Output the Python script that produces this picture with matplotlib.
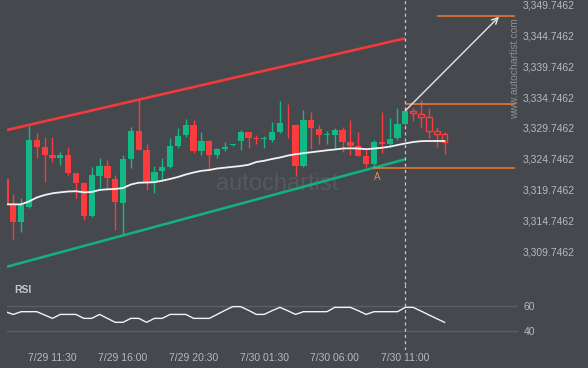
import numpy as np
import matplotlib
matplotlib.use("Agg")
import matplotlib.pyplot as plt
from matplotlib.patches import Rectangle

BG = "#45484d"
GREEN = "#13b985"
RED = "#fc3b3d"
ORANGE = "#f47a32"
TEXT = "#b6b9bd"

plt.rcParams["font.family"] = ["Liberation Sans", "DejaVu Sans"]

# candles, index -1 is the clipped one on the left edge
idx = np.arange(-1, 56)
opens = [3321.45, 3317.23, 3314.52, 3316.96, 3327.78, 3326.70, 3325.35, 3324.81, 3325.35, 3322.38,
         3320.85, 3315.49, 3321.99, 3323.56, 3321.50, 3317.61, 3324.70, 3329.24, 3326.16, 3321.01,
         3322.75, 3323.45, 3326.86, 3328.59, 3330.22, 3326.05, 3327.62, 3325.35, 3326.32, 3326.90,
         3327.67, 3329.03, 3328.10, 3328.00, 3327.78, 3329.13, 3330.40, 3330.22, 3323.56, 3331.03,
         3329.57, 3328.60, 3328.59, 3329.41, 3327.41, 3326.81, 3325.19, 3323.89, 3327.46, 3327.13,
         3328.06, 3330.38, 3332.49, 3331.95, 3331.47, 3329.29, 3328.71]
highs = [3321.45, 3318.97, 3318.42, 3330.10, 3328.87, 3328.32, 3328.32, 3325.88, 3326.61, 3322.50,
         3320.90, 3323.45, 3324.91, 3324.49, 3322.10, 3325.35, 3329.84, 3334.28, 3327.08, 3323.61,
         3324.91, 3328.06, 3329.68, 3331.19, 3331.03, 3329.03, 3327.78, 3326.54, 3327.41, 3327.10,
         3329.41, 3329.10, 3328.59, 3328.48, 3330.66, 3334.11, 3333.58, 3330.30, 3332.65, 3332.28,
         3330.22, 3329.24, 3329.68, 3329.95, 3331.03, 3329.03, 3326.44, 3327.78, 3332.28, 3331.31,
         3332.93, 3332.65, 3333.03, 3334.28, 3333.03, 3329.84, 3329.03]
lows = [3317.23, 3311.55, 3312.90, 3316.79, 3324.91, 3321.01, 3324.26, 3323.72, 3322.10, 3318.32,
        3314.80, 3315.33, 3319.67, 3319.83, 3313.17, 3312.36, 3323.19, 3326.16, 3319.67, 3319.23,
        3321.13, 3323.19, 3326.44, 3328.32, 3325.62, 3325.35, 3322.91, 3324.91, 3326.00, 3326.80,
        3326.16, 3326.44, 3327.08, 3326.44, 3327.51, 3328.98, 3328.16, 3321.99, 3323.45, 3326.32,
        3327.08, 3327.08, 3326.44, 3325.88, 3325.35, 3325.19, 3323.45, 3323.45, 3325.62, 3326.70,
        3327.78, 3330.22, 3330.87, 3329.68, 3328.06, 3326.70, 3325.46]
closes = [3317.23, 3314.52, 3317.23, 3327.78, 3326.70, 3325.35, 3324.81, 3325.35, 3322.38, 3320.85,
          3315.49, 3322.10, 3323.56, 3321.66, 3317.77, 3324.70, 3329.24, 3326.16, 3321.01, 3322.54,
          3323.45, 3326.81, 3328.43, 3330.22, 3326.05, 3327.62, 3325.35, 3326.32, 3326.70, 3327.00,
          3329.03, 3328.06, 3328.00, 3328.10, 3329.03, 3330.54, 3330.30, 3323.61, 3331.03, 3329.78,
          3328.59, 3328.70, 3329.41, 3327.51, 3326.81, 3325.19, 3323.89, 3327.46, 3327.13, 3327.95,
          3330.38, 3332.49, 3332.12, 3331.57, 3329.29, 3328.81, 3327.51]
ma = [3317.34, 3317.34, 3317.34, 3317.80, 3318.45, 3318.85, 3319.13, 3319.29, 3319.42, 3319.47,
      3319.29, 3319.34, 3319.67, 3319.78, 3319.83, 3319.99, 3320.56, 3320.85, 3320.88, 3320.93,
      3321.18, 3321.45, 3321.78, 3322.18, 3322.51, 3322.78, 3322.91, 3323.16, 3323.29, 3323.43,
      3323.56, 3323.76, 3324.21, 3324.41, 3324.70, 3324.94, 3325.25, 3325.48, 3325.64, 3325.80,
      3325.95, 3326.11, 3326.24, 3326.40, 3326.44, 3326.40, 3326.29, 3326.40, 3326.52, 3326.70,
      3326.97, 3327.22, 3327.46, 3327.59, 3327.62, 3327.62, 3327.62]
rsi = [55.4, 53.2, 55.4, 55.4, 55.4, 52.7, 50.0, 53.2, 53.2, 53.2,
       50.0, 50.0, 53.2, 50.0, 46.8, 46.8, 50.0, 50.0, 46.8, 50.0,
       50.0, 53.2, 53.2, 53.2, 50.0, 50.0, 50.0, 53.2, 56.5, 59.5,
       59.5, 56.5, 53.2, 53.2, 56.2, 58.9, 56.2, 53.2, 55.4, 55.4,
       55.4, 55.4, 58.9, 58.9, 58.9, 56.2, 53.2, 55.4, 55.4, 55.4,
       55.4, 58.9, 58.9, 55.9, 52.8, 49.8, 46.8]

pattern_end = 50  # last bar of the pattern, dashed line
resistance = ([-0.8, 50], [3329.41, 3344.29])
support = ([-0.8, 50], [3307.21, 3324.65])
target_level = 3347.91
break_level = 3333.58
point_a = 3323.19
arrow_from = (50, 3332.54)
arrow_to = (61.95, 3347.80)

price_ticks = [3309.7462 + 5 * k for k in range(9)]
date_pos = [5, 14, 23, 32, 41, 50]
date_labels = ["7/29 11:30", "7/29 16:00", "7/29 20:30", "7/30 01:30", "7/30 06:00", "7/30 11:00"]

fig = plt.figure(figsize=(5.88, 3.68), dpi=100, facecolor=BG)
W, H = 588, 368
ax = fig.add_axes([7 / W, 1 - 285 / H, 511 / W, 285 / H], facecolor=BG)
ax_rsi = fig.add_axes([7 / W, 1 - 350 / H, 511 / W, 65 / H], facecolor=BG)
xlim = (-0.80, 64.37)

# faint watermark
for x, top, bot in [(185, 183, 191), (190, 177, 191), (195, 173, 185), (200, 169, 179),
                    (205, 171, 181), (211, 167, 177), (216, 163, 173), (221, 159, 173)]:
    fig.add_artist(Rectangle((x / W - 1.5 / W, 1 - bot / H), 3 / W, (bot - top) / H,
                             transform=fig.transFigure, color="#55585d", zorder=0))
ax.text(0.529, 0.354, "autochartist", transform=ax.transAxes, fontsize=17,
        color="#55585d", ha="center", va="center", zorder=0)
ax.text(0.994, 0.758, "www.autochartist.com", transform=ax.transAxes, fontsize=7.5,
        color="#8c8f94", rotation=90, ha="center", va="center")

# channel
ax.plot(*resistance, color="#f2393b", lw=1.9, solid_capstyle="butt")
ax.plot(*support, color="#13b07e", lw=1.9, solid_capstyle="butt")

# candles
o = np.array(opens)
c = np.array(closes)
up = c >= o
hollow = idx > pattern_end
body_lo = np.minimum(o, c)
body_h = np.maximum(np.abs(c - o), 0.16)
colors = np.where(up, GREEN, RED)
ax.vlines(idx, lows, highs, colors=colors, lw=1, zorder=2)
ax.bar(idx[~hollow], body_h[~hollow], bottom=body_lo[~hollow], width=0.8,
       color=colors[~hollow], zorder=3, linewidth=0)
ax.bar(idx[hollow], body_h[hollow], bottom=body_lo[hollow], width=0.72,
       facecolor=BG, edgecolor=colors[hollow], linewidth=1, zorder=3)

ax.plot(idx, ma, color="#f2f2f2", lw=1.3, zorder=4)

# levels
ax.hlines(target_level, 54, 64.05, color=ORANGE, lw=1.1)
ax.hlines(break_level, pattern_end, 64.05, color=ORANGE, lw=1.1)
ax.hlines(point_a, 45.9, 64.05, color=ORANGE, lw=1.1)
ax.text(46.4, point_a - 0.6, "A", color="#e8884a", fontsize=7, ha="center", va="top")
ax.annotate("", xy=arrow_to, xytext=arrow_from,
            arrowprops=dict(arrowstyle="->", color="#e6e6e6", lw=1, mutation_scale=11,
                            shrinkA=0, shrinkB=0))

ax.axvline(pattern_end, color="#c9c9c9", lw=0.9, ls=(0, (2.5, 2.5)))
ax.set_xlim(*xlim)
ax.set_ylim(3350.51 - 285 / 6.16, 3350.51)
ax.yaxis.tick_right()
ax.set_yticks(price_ticks)
ax.set_yticklabels([f"{v:,.4f}" for v in price_ticks])
ax.tick_params(axis="y", length=0, pad=3, labelsize=7.5, labelcolor=TEXT)
ax.set_xticks([])
for s in ax.spines.values():
    s.set_visible(False)

# RSI
ax_rsi.axhline(60, color="#5c5f64", lw=1)
ax_rsi.axhline(40, color="#5c5f64", lw=1)
ax_rsi.plot(idx, rsi, color="#f2f2f2", lw=1)
ax_rsi.axvline(pattern_end, color="#c9c9c9", lw=0.9, ls=(0, (2.5, 2.5)))
ax_rsi.text(7 / 511, 0.92, "RSI", transform=ax_rsi.transAxes, fontsize=7.5,
            fontweight="bold", color="#c4c6c9", va="center")
ax_rsi.set_xlim(*xlim)
ax_rsi.set_ylim(24.4, 77.0)
ax_rsi.yaxis.tick_right()
ax_rsi.set_yticks([40, 60])
ax_rsi.set_xticks(date_pos)
ax_rsi.set_xticklabels(date_labels)
ax_rsi.tick_params(axis="y", length=0, pad=4, labelsize=7.5, labelcolor=TEXT)
ax_rsi.tick_params(axis="x", length=0, pad=2.5, labelsize=7.5, labelcolor=TEXT)
for s in ax_rsi.spines.values():
    s.set_visible(False)

fig.savefig("out.png", dpi=100, facecolor=BG)
